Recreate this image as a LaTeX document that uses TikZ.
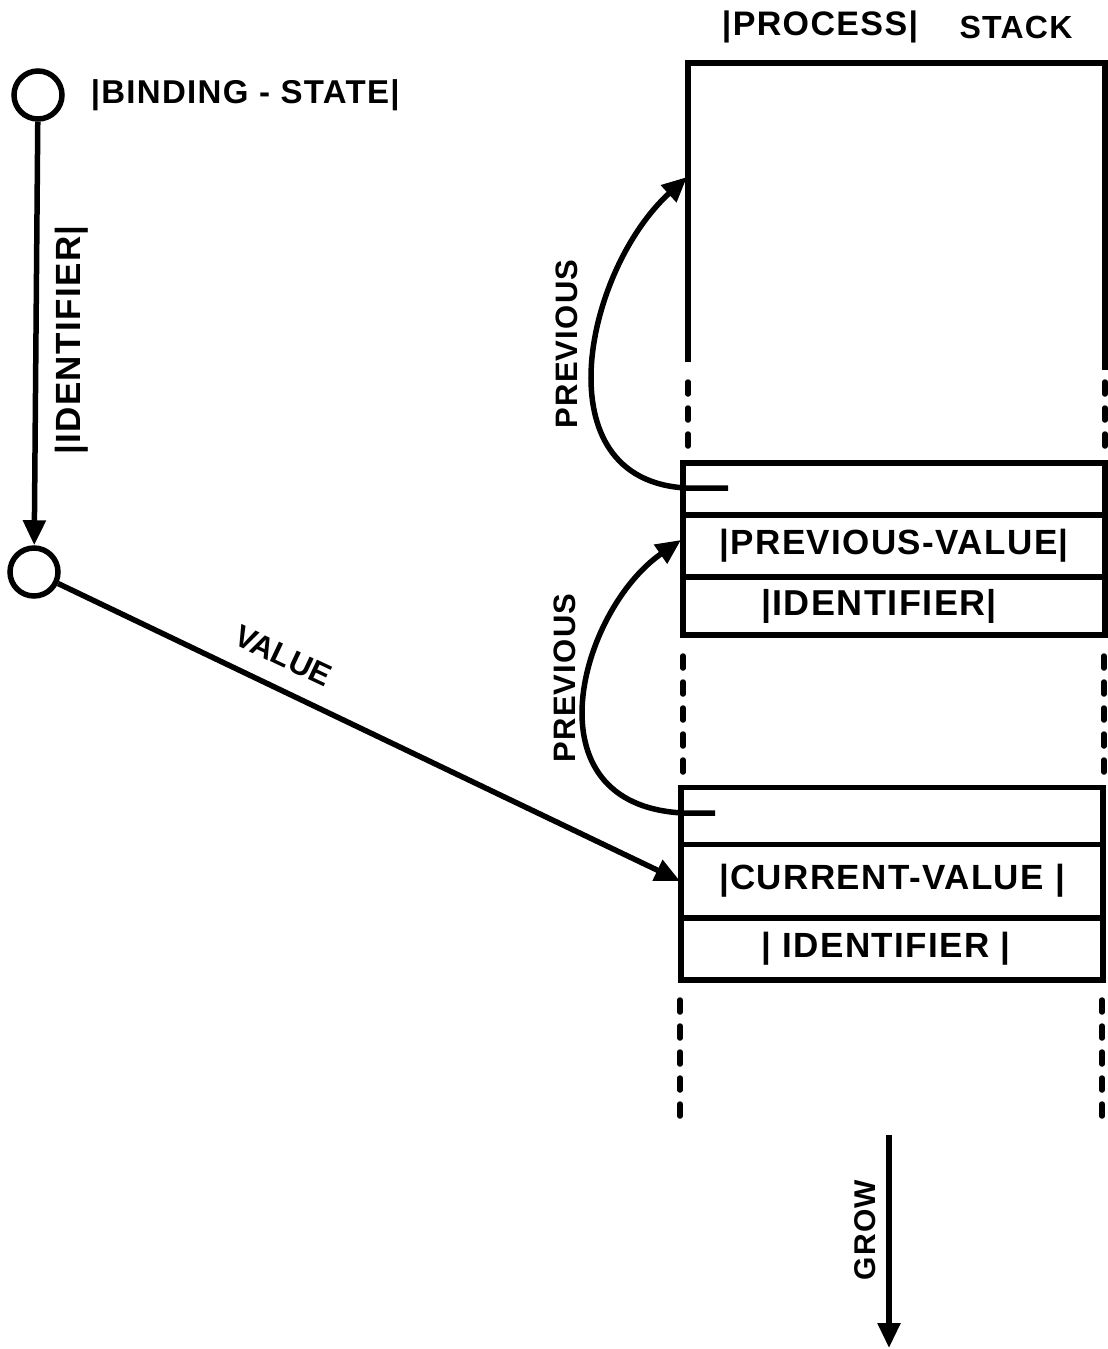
\documentclass[tikz,border=0pt]{standalone}
\usepackage{fontspec}
\setmainfont{Liberation Sans}[LetterSpace=4]
\newfontfamily\plainsans{Liberation Sans}
\usetikzlibrary{arrows.meta}
\tikzset{
  lbl/.style={inner sep=0pt, font=\bfseries\fontsize{#1}{#1}\selectfont},
  lbl/.default=33,
  ring/.style={circle, draw, minimum size=48pt, inner sep=0pt},
  cell/.style={draw, inner sep=0pt, minimum width=422pt},
  arr/.style={-{Triangle[length=25pt,width=22pt]}},
  dashline/.style={line cap=round, dash pattern=on 12pt off 14pt},
}
\begin{document}
\begin{tikzpicture}[x=1pt,y=-1pt,line width=5.5pt]
\useasboundingbox (0,0) rectangle (1108,1349);

% left graph
\node[ring] (bs) at (38,95) {};
\node[lbl=33, anchor=west] (bst) at (88,95) {|BINDING - STATE|};
\node[ring] (c2) at (34,572) {};
\draw[arr] (bs) -- (c2);
\node[lbl=35, rotate=90] (idl) at (72,340) {|IDENTIFIER|};

% stack header
\node[lbl=34] (proc) at (820,27) {|PROCESS|};
\node[lbl=32] (stack) at (1016,27) {STACK};

% top box of stack
\draw (688,362) -- (688,63) -- (1105,63) -- (1105,370);
\draw[dashline] (688,382) -- (688,452);
\draw[dashline] (1105,382) -- (1105,452);

% frame 1
\node[cell, minimum height=52pt] (f1a) at (894,489) {};
\node[cell, minimum height=62pt] (f1b) at (894,546) {\fontsize{35}{35}\bfseries\selectfont|PREVIOUS-VALUE|};
\node[cell, minimum height=58pt] (f1c) at (894,606) {\fontsize{36}{36}\bfseries\selectfont|IDENTIFIER|\hspace*{30pt}};

\draw[dashline] (683,656) -- (683,776);
\draw[dashline] (1104,656) -- (1104,776);

% frame 2
\node[cell, minimum height=57pt] (f2a) at (892,816) {};
\node[cell, minimum height=73pt] (f2b) at (892,881) {\fontsize{35}{35}\bfseries\selectfont|CURRENT-VALUE |};
\node[cell, minimum height=62pt] (f2c) at (892,949) {\fontsize{35}{35}\bfseries\selectfont| IDENTIFIER |\hspace*{12pt}};

\draw[dashline] (680,1000) -- (680,1130);
\draw[dashline] (1102,1000) -- (1102,1130);

% previous links
\coordinate (s1) at (728,488);
\coordinate (t1) at (687,177);
\draw[arr] (s1) -- (686,488) .. controls (540,480) and (585,270) .. (t1);
\node[lbl=31, rotate=90] (pv1) at (567,344) {PREVIOUS};

\coordinate (s2) at (715,813);
\coordinate (t2) at (681,540);
\draw[arr] (s2) -- (683,813) .. controls (525,805) and (580,610) .. (t2);
\node[lbl=31, rotate=90] (pv2) at (565,678) {PREVIOUS};

% value link
\coordinate (v) at (680,881);
\draw[arr] (c2) -- (v);
\node[inner sep=0pt, font=\plainsans\bfseries\fontsize{31}{31}\selectfont, rotate=-25.3] (vl) at (283,656) {VALUE};

% grow
\coordinate (g0) at (889,1135);
\coordinate (g1) at (889,1348);
\draw[arr] (g0) -- (g1);
\node[lbl=30, rotate=90] (gl) at (865,1230) {GROW};
\end{tikzpicture}
\end{document}
